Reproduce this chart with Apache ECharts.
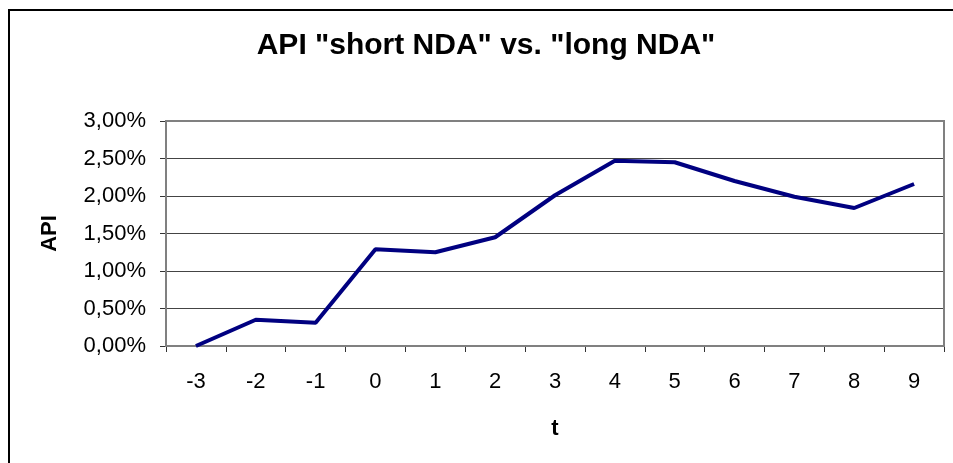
<!DOCTYPE html>
<html>
<head>
<meta charset="utf-8">
<script src="https://cdn.jsdelivr.net/npm/echarts@6/dist/echarts.min.js"></script>
<style>
  html, body { margin: 0; padding: 0; background: #fff; }
  #chart { width: 953px; height: 463px; }
</style>
</head>
<body>
<div id="chart"></div>
<script>
// data
const categories = ['-3', '-2', '-1', '0', '1', '2', '3', '4', '5', '6', '7', '8', '9']
const apiValues = [0.0000, 0.0035, 0.0031, 0.0129, 0.0125, 0.0145, 0.0201, 0.0247, 0.0245, 0.0220, 0.0199, 0.0184, 0.0216]

const font = '"Liberation Sans", Arial, sans-serif'

const chart = echarts.init(document.getElementById('chart'))

chart.setOption({
  backgroundColor: '#ffffff',
  animation: false,
  title: {
    text: 'API "short NDA" vs. "long NDA"',
    left: 481,
    top: 26,
    textAlign: 'center',
    textStyle: { fontFamily: font, fontSize: 30, fontWeight: 'bold', color: '#000' }
  },
  graphic: [
    {
      // outer chart frame (right and bottom edges fall outside the picture)
      type: 'rect',
      shape: { x: 9, y: 10, width: 1000, height: 500 },
      style: { fill: 'none', stroke: '#000', lineWidth: 2 }
    },
    {
      // plot area border
      type: 'rect',
      shape: { x: 166, y: 121, width: 778, height: 225 },
      style: { fill: 'none', stroke: '#808080', lineWidth: 2 },
      z: 1
    }
  ],
  grid: {
    left: 166,
    right: 9,
    top: 121,
    bottom: 117
  },
  xAxis: {
    type: 'category',
    data: categories,
    boundaryGap: true,
    name: 't',
    nameLocation: 'middle',
    nameGap: 72,
    nameTextStyle: { fontFamily: font, fontSize: 22, fontWeight: 'bold', color: '#000' },
    axisLine: { lineStyle: { color: '#808080', width: 2 } },
    axisTick: { show: true, length: 6, inside: false, lineStyle: { color: '#333', width: 1 } },
    axisLabel: { fontFamily: font, fontSize: 22, color: '#000', margin: 25 },
    splitLine: { show: false }
  },
  yAxis: {
    type: 'value',
    min: 0,
    max: 0.03,
    interval: 0.005,
    name: 'API',
    nameLocation: 'middle',
    nameGap: 105,
    nameRotate: 90,
    nameTextStyle: { fontFamily: font, fontSize: 22, fontWeight: 'bold', color: '#000' },
    axisLine: { show: true, lineStyle: { color: '#222', width: 1.5 } },
    axisTick: { show: true, length: 6, inside: false, lineStyle: { color: '#333', width: 1 } },
    axisLabel: {
      fontFamily: font,
      fontSize: 22,
      color: '#000',
      margin: 20,
      formatter: v => (v * 100).toFixed(2).replace('.', ',') + '%'
    },
    splitLine: { show: true, lineStyle: { color: '#444', width: 1 } }
  },
  series: [
    {
      name: 'API',
      type: 'line',
      data: apiValues,
      symbol: 'none',
      smooth: false,
      lineStyle: { color: '#000080', width: 4 },
      z: 3
    }
  ]
})
</script>
</body>
</html>
